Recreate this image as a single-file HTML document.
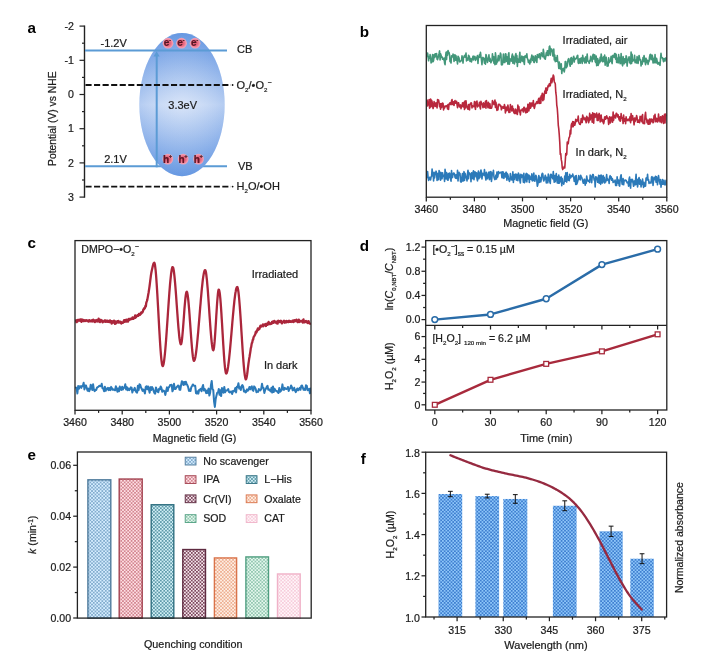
<!DOCTYPE html>
<html><head><meta charset="utf-8"><title>Figure</title>
<style>
html,body{margin:0;padding:0;background:#fff;}
svg{display:block;font-family:"Liberation Sans",Arial,sans-serif;}
text{stroke:#222;stroke-width:0.22px;}
</style></head>
<body>
<svg width="721" height="656" viewBox="0 0 721 656">
<rect width="721" height="656" fill="#fff"/>
<defs>
<linearGradient id="ell" x1="0" y1="0" x2="0" y2="1"><stop offset="0" stop-color="#6a9be2"/><stop offset="0.18" stop-color="#8fb3ea"/><stop offset="0.5" stop-color="#d2e0f7"/><stop offset="0.82" stop-color="#8fb3ea"/><stop offset="1" stop-color="#6a9be2"/></linearGradient>
<radialGradient id="ellr" cx="0.5" cy="0.5" r="0.5"><stop offset="0" stop-color="#ffffff" stop-opacity="0.15"/><stop offset="1" stop-color="#5a8fe0" stop-opacity="0.25"/></radialGradient>
<radialGradient id="eg" cx="0.5" cy="0.5" r="0.5"><stop offset="0" stop-color="#e0506a"/><stop offset="0.5" stop-color="#e96a82"/><stop offset="0.85" stop-color="#f298ac"/><stop offset="1" stop-color="#f3aabb" stop-opacity="0.9"/></radialGradient>
<pattern id="p_blue" width="3.44" height="3.44" patternUnits="userSpaceOnUse"><rect width="3.44" height="3.44" fill="#d6edff"/><rect x="0.18" y="0.18" width="1.35" height="1.35" fill="#4d84ae"/><rect x="1.9" y="1.9" width="1.35" height="1.35" fill="#4d84ae"/></pattern>
<pattern id="p_red" width="3.44" height="3.44" patternUnits="userSpaceOnUse"><rect width="3.44" height="3.44" fill="#ffe0e4"/><rect x="0.18" y="0.18" width="1.35" height="1.35" fill="#b64c5c"/><rect x="1.9" y="1.9" width="1.35" height="1.35" fill="#b64c5c"/></pattern>
<pattern id="p_teal" width="3.44" height="3.44" patternUnits="userSpaceOnUse"><rect width="3.44" height="3.44" fill="#d2f0f6"/><rect x="0.11" y="0.11" width="1.5" height="1.5" fill="#3b7f92"/><rect x="1.83" y="1.83" width="1.5" height="1.5" fill="#3b7f92"/></pattern>
<pattern id="p_maroon" width="3.44" height="3.44" patternUnits="userSpaceOnUse"><rect width="3.44" height="3.44" fill="#f5e6ec"/><rect x="0.06" y="0.06" width="1.6" height="1.6" fill="#6b3048"/><rect x="1.78" y="1.78" width="1.6" height="1.6" fill="#6b3048"/></pattern>
<pattern id="p_orange" width="3.44" height="3.44" patternUnits="userSpaceOnUse"><rect width="3.44" height="3.44" fill="#fff0e6"/><rect x="0.18" y="0.18" width="1.35" height="1.35" fill="#e3875c"/><rect x="1.9" y="1.9" width="1.35" height="1.35" fill="#e3875c"/></pattern>
<pattern id="p_green" width="3.44" height="3.44" patternUnits="userSpaceOnUse"><rect width="3.44" height="3.44" fill="#e6f8ef"/><rect x="0.18" y="0.18" width="1.35" height="1.35" fill="#5da888"/><rect x="1.9" y="1.9" width="1.35" height="1.35" fill="#5da888"/></pattern>
<pattern id="p_pink" width="3.44" height="3.44" patternUnits="userSpaceOnUse"><rect width="3.44" height="3.44" fill="#fff6f9"/><rect x="0.18" y="0.18" width="1.35" height="1.35" fill="#f2b4ca"/><rect x="1.9" y="1.9" width="1.35" height="1.35" fill="#f2b4ca"/></pattern>
<pattern id="p_fblue" width="3.44" height="3.44" patternUnits="userSpaceOnUse"><rect width="3.44" height="3.44" fill="#8ec6f9"/><rect x="0" y="0" width="1.72" height="1.72" fill="#3f7fd0"/><rect x="1.72" y="1.72" width="1.72" height="1.72" fill="#3f7fd0"/></pattern>
</defs>
<text x="27.4" y="33.2" text-anchor="start" font-size="15.2" fill="#000" font-weight="700" style="stroke:none">a</text>
<text x="359.8" y="36.5" text-anchor="start" font-size="15.2" fill="#000" font-weight="700" style="stroke:none">b</text>
<text x="27.4" y="248.4" text-anchor="start" font-size="15.2" fill="#000" font-weight="700" style="stroke:none">c</text>
<text x="359.8" y="250.7" text-anchor="start" font-size="15.2" fill="#000" font-weight="700" style="stroke:none">d</text>
<text x="27.4" y="460.3" text-anchor="start" font-size="15.2" fill="#000" font-weight="700" style="stroke:none">e</text>
<text x="360.8" y="463.9" text-anchor="start" font-size="15.2" fill="#000" font-weight="700" style="stroke:none">f</text>
<line x1="84.5" y1="25.5" x2="84.5" y2="197.7" stroke="#222" stroke-width="1.4" />
<line x1="79.5" y1="26.1" x2="84.5" y2="26.1" stroke="#222" stroke-width="1.2" />
<text x="74" y="29.8" text-anchor="end" font-size="10.6" fill="#1a1a1a" >-2</text>
<line x1="79.5" y1="60.3" x2="84.5" y2="60.3" stroke="#222" stroke-width="1.2" />
<text x="74" y="64" text-anchor="end" font-size="10.6" fill="#1a1a1a" >-1</text>
<line x1="79.5" y1="94.5" x2="84.5" y2="94.5" stroke="#222" stroke-width="1.2" />
<text x="74" y="98.2" text-anchor="end" font-size="10.6" fill="#1a1a1a" >0</text>
<line x1="79.5" y1="128.7" x2="84.5" y2="128.7" stroke="#222" stroke-width="1.2" />
<text x="74" y="132.4" text-anchor="end" font-size="10.6" fill="#1a1a1a" >1</text>
<line x1="79.5" y1="162.9" x2="84.5" y2="162.9" stroke="#222" stroke-width="1.2" />
<text x="74" y="166.6" text-anchor="end" font-size="10.6" fill="#1a1a1a" >2</text>
<line x1="79.5" y1="197.1" x2="84.5" y2="197.1" stroke="#222" stroke-width="1.2" />
<text x="74" y="200.8" text-anchor="end" font-size="10.6" fill="#1a1a1a" >3</text>
<line x1="82" y1="43.2" x2="84.5" y2="43.2" stroke="#222" stroke-width="1.2" />
<line x1="82" y1="77.4" x2="84.5" y2="77.4" stroke="#222" stroke-width="1.2" />
<line x1="82" y1="111.6" x2="84.5" y2="111.6" stroke="#222" stroke-width="1.2" />
<line x1="82" y1="145.8" x2="84.5" y2="145.8" stroke="#222" stroke-width="1.2" />
<line x1="82" y1="180" x2="84.5" y2="180" stroke="#222" stroke-width="1.2" />
<text transform="translate(56 118.7) rotate(-90)" text-anchor="middle" font-size="10.3" fill="#1a1a1a" >Potential (V) vs NHE</text>
<line x1="85" y1="166.3" x2="227" y2="166.3" stroke="#5b9bd5" stroke-width="2.0" />
<ellipse cx="182" cy="104.6" rx="42.7" ry="71.6" fill="url(#ell)"/>
<ellipse cx="182" cy="104.6" rx="42.7" ry="71.6" fill="url(#ellr)"/>
<line x1="85" y1="50.4" x2="227" y2="50.4" stroke="#5b9bd5" stroke-width="2.0" />
<line x1="156.7" y1="167.3" x2="156.7" y2="55" stroke="#5b9bd5" stroke-width="2.0" />
<path d="M156.6,51.2 L159.7,56.4 L153.5,56.4 Z" fill="#5b9bd5"/>
<line x1="85.5" y1="85" x2="231" y2="85" stroke="#111" stroke-width="1.9" stroke-dasharray="6.1 2.45"/>
<line x1="85.5" y1="186.6" x2="231" y2="186.6" stroke="#111" stroke-width="1.9" stroke-dasharray="6.1 2.45"/>
<circle cx="232.6" cy="85" r="0.9" fill="#111"/>
<circle cx="232.6" cy="186.6" r="0.9" fill="#111"/>
<circle cx="168.0" cy="43.2" r="5.4" fill="url(#eg)"/>
<text x="167.4" y="46.3" text-anchor="middle" font-size="10" fill="#6e0f24" font-weight="700">e<tspan font-size="5" dy="-4.5">-</tspan><tspan dy="4.5" font-size="5">&#8203;</tspan></text>
<circle cx="181.5" cy="43.2" r="5.4" fill="url(#eg)"/>
<text x="180.9" y="46.3" text-anchor="middle" font-size="10" fill="#6e0f24" font-weight="700">e<tspan font-size="5" dy="-4.5">-</tspan><tspan dy="4.5" font-size="5">&#8203;</tspan></text>
<circle cx="195.1" cy="43.2" r="5.4" fill="url(#eg)"/>
<text x="194.5" y="46.3" text-anchor="middle" font-size="10" fill="#6e0f24" font-weight="700">e<tspan font-size="5" dy="-4.5">-</tspan><tspan dy="4.5" font-size="5">&#8203;</tspan></text>
<circle cx="167.8" cy="159.1" r="5.4" fill="url(#eg)"/>
<text x="167.5" y="162.5" text-anchor="middle" font-size="10" fill="#6e0f24" font-weight="700">h<tspan font-size="5" dy="-4.5">+</tspan><tspan dy="4.5" font-size="5">&#8203;</tspan></text>
<circle cx="183.2" cy="159.1" r="5.4" fill="url(#eg)"/>
<text x="182.9" y="162.5" text-anchor="middle" font-size="10" fill="#6e0f24" font-weight="700">h<tspan font-size="5" dy="-4.5">+</tspan><tspan dy="4.5" font-size="5">&#8203;</tspan></text>
<circle cx="198.5" cy="159.1" r="5.4" fill="url(#eg)"/>
<text x="198.2" y="162.5" text-anchor="middle" font-size="10" fill="#6e0f24" font-weight="700">h<tspan font-size="5" dy="-4.5">+</tspan><tspan dy="4.5" font-size="5">&#8203;</tspan></text>
<text x="100.5" y="46.5" text-anchor="start" font-size="11.0" fill="#1a1a1a" >-1.2V</text>
<text x="104.2" y="163.2" text-anchor="start" font-size="11.0" fill="#1a1a1a" >2.1V</text>
<text x="168.3" y="109" text-anchor="start" font-size="11.0" fill="#1a1a1a" >3.3eV</text>
<text x="237" y="53.2" text-anchor="start" font-size="11.0" fill="#1a1a1a" >CB</text>
<text x="238" y="170" text-anchor="start" font-size="11.0" fill="#1a1a1a" >VB</text>
<text x="236.5" y="88.6" text-anchor="start" font-size="11.0" fill="#1a1a1a" >O<tspan font-size="6.15" dy="2.9">2</tspan><tspan dy="-2.9" font-size="6.15">&#8203;</tspan>/•O<tspan font-size="6.15" dy="2.9">2</tspan><tspan dy="-2.9" font-size="6.15">&#8203;</tspan><tspan font-size="7" dy="-3.5">−</tspan><tspan dy="3.5" font-size="7">&#8203;</tspan></text>
<text x="236.5" y="190.2" text-anchor="start" font-size="11.0" fill="#1a1a1a" >H<tspan font-size="6.15" dy="2.9">2</tspan><tspan dy="-2.9" font-size="6.15">&#8203;</tspan>O/•OH</text>
<clipPath id="cb"><rect x="426.3" y="25.5" width="240.49999999999994" height="171.7"/></clipPath>
<g clip-path="url(#cb)">
<polyline points="427.1,56.53 427.6,53.11 428.1,56.65 428.6,60.81 429.09,56.69 429.59,58.34 430.09,54.55 430.59,57.14 431.09,62.91 431.59,61.94 432.09,61.65 432.59,54.52 433.08,61.75 433.58,60.41 434.08,54.68 434.58,57.54 435.08,53.73 435.58,53.86 436.08,56.62 436.58,53.46 437.07,59.21 437.57,59.67 438.07,57.73 438.57,55.56 439.07,53.43 439.57,50.91 440.07,59.84 440.57,53.79 441.06,55.17 441.56,57.21 442.06,56.79 442.56,59.28 443.06,58.43 443.56,59.7 444.06,58.03 444.56,63.01 445.05,64.62 445.55,57.1 446.05,52.42 446.55,59.44 447.05,51.72 447.55,55.13 448.05,50.44 448.55,53.04 449.04,52.38 449.54,54.84 450.04,61.57 450.54,61.55 451.04,62.91 451.54,55.88 452.04,57.06 452.54,56.82 453.03,54.1 453.53,55.82 454.03,61.39 454.53,54.99 455.03,54.89 455.53,60.11 456.03,55.86 456.53,60.31 457.02,60.41 457.52,63.84 458.02,56.21 458.52,57.03 459.02,57.91 459.52,61.75 460.02,61.89 460.52,61.11 461.01,60.92 461.51,60.27 462.01,55.8 462.51,58.21 463.01,63.06 463.51,57.06 464.01,57.17 464.51,55.42 465,56.78 465.5,57.16 466,53 466.5,60.86 467,58.07 467.5,59.73 468,60.16 468.5,55.3 468.99,55.73 469.49,57.03 469.99,61.45 470.49,60.95 470.99,58.53 471.49,61.85 471.99,59.65 472.49,59.17 472.98,56.24 473.48,60 473.98,56.17 474.48,58.7 474.98,56.59 475.48,60.45 475.98,59.43 476.48,58.29 476.97,56.96 477.47,55.57 477.97,63.4 478.47,56.72 478.97,57.5 479.47,54.64 479.97,57.09 480.47,52.33 480.96,56.38 481.46,59.86 481.96,64.78 482.46,58.79 482.96,57.38 483.46,58 483.96,59.44 484.46,63.1 484.95,58.2 485.45,64.11 485.95,54.46 486.45,56.1 486.95,58.68 487.45,62.41 487.95,58.39 488.45,59.17 488.94,54.9 489.44,61.17 489.94,58.17 490.44,60.23 490.94,62.76 491.44,61.13 491.94,61.06 492.44,53.83 492.93,59.76 493.43,56.51 493.93,63.15 494.43,57.13 494.93,64.8 495.43,52.81 495.93,56.96 496.43,64.07 496.92,60.34 497.42,62 497.92,58.4 498.42,55.47 498.92,60.77 499.42,57.82 499.92,57.55 500.42,53.09 500.91,54.24 501.41,64.83 501.91,61.75 502.41,64.6 502.91,59.79 503.41,54.11 503.91,62.42 504.41,60.7 504.9,62.4 505.4,53.85 505.9,54.02 506.4,61.12 506.9,56.68 507.4,61.23 507.9,64.23 508.4,54.52 508.89,52.71 509.39,64.12 509.89,61.03 510.39,58.91 510.89,60.18 511.39,61.14 511.89,56.12 512.39,54.08 512.88,63.1 513.38,56.22 513.88,59.78 514.38,63.84 514.88,60.24 515.38,55.22 515.88,53.63 516.38,62.12 516.87,55.44 517.37,66.45 517.87,59 518.37,60.51 518.87,62.15 519.37,56.31 519.87,52.19 520.37,62.57 520.86,57.98 521.36,60.96 521.86,56.08 522.36,56.95 522.86,61.48 523.36,56.82 523.86,61.74 524.36,64.47 524.85,56.15 525.35,56.92 525.85,55.6 526.35,57.22 526.85,53.84 527.35,58.51 527.85,59.41 528.35,62.46 528.84,60.59 529.34,62.57 529.84,64.03 530.34,59.28 530.84,62.15 531.34,57.71 531.84,55.1 532.34,57.29 532.83,60.56 533.33,56.26 533.83,62.21 534.33,62.51 534.83,58.79 535.33,55.74 535.83,60.6 536.33,57.05 536.82,62.48 537.32,54.56 537.82,56.11 538.32,57.49 538.82,55.32 539.32,53.76 539.82,56.73 540.32,58.97 540.81,54.94 541.31,52.72 541.81,55.81 542.31,55.43 542.81,56.67 543.31,49.25 543.81,52.74 544.31,58.02 544.8,58.72 545.3,59.18 545.8,56.01 546.3,52.73 546.8,55.38 547.3,50.7 547.8,50.92 548.3,55.57 548.79,52.57 549.29,46.77 549.79,46.05 550.29,55.09 550.79,48.52 551.29,51.45 551.79,49.22 552.29,51.29 552.78,55.88 553.28,55.31 553.78,49.17 554.28,59.89 554.78,54.98 555.28,61.61 555.78,57.8 556.28,57.76 556.77,61.28 557.27,55.46 557.77,61.84 558.27,61.97 558.77,68.36 559.27,61.96 559.77,64.48 560.27,68.95 560.76,68.8 561.26,63.69 561.76,73.56 562.26,68.97 562.76,70.48 563.26,68.47 563.76,68.37 564.26,71.99 564.75,68.96 565.25,61.48 565.75,61.44 566.25,67.79 566.75,66.93 567.25,65.83 567.75,61.44 568.25,59.04 568.74,58.71 569.24,61.08 569.74,64.24 570.24,66.21 570.74,58.48 571.24,57.54 571.74,64.27 572.24,63.13 572.73,58.58 573.23,57.58 573.73,56.26 574.23,62.06 574.73,58.36 575.23,58.9 575.73,59.11 576.23,58.49 576.72,57.41 577.22,55.85 577.72,55.26 578.22,62.85 578.72,63.28 579.22,59.41 579.72,58.88 580.22,63.11 580.71,58.65 581.21,57.83 581.71,60.7 582.21,63.47 582.71,55.32 583.21,59.1 583.71,61.03 584.21,58.35 584.7,62.86 585.2,61.29 585.7,56.92 586.2,62.87 586.7,58.53 587.2,54.01 587.7,60.91 588.2,61.37 588.69,61.73 589.19,63.36 589.69,60.24 590.19,61.11 590.69,56.4 591.19,59.5 591.69,58.47 592.19,61.77 592.68,55.47 593.18,54.34 593.68,58.93 594.18,58.67 594.68,54.68 595.18,61.35 595.68,62.46 596.18,56.08 596.67,65.77 597.17,59.89 597.67,58.6 598.17,65.35 598.67,63.72 599.17,60.23 599.67,62.8 600.17,57.41 600.66,61.56 601.16,53.95 601.66,56.77 602.16,60.26 602.66,61.66 603.16,57.99 603.66,56.86 604.16,61.68 604.65,54.96 605.15,65.11 605.65,58.19 606.15,57.22 606.65,61.67 607.15,66.18 607.65,62.57 608.15,65.88 608.64,57.87 609.14,62.68 609.64,61.36 610.14,61.33 610.64,59.36 611.14,56.19 611.64,61.78 612.14,63.6 612.63,55.84 613.13,55.24 613.63,56.61 614.13,57.31 614.63,53.56 615.13,53.62 615.63,59.11 616.13,54.39 616.62,62.46 617.12,57.95 617.62,59.04 618.12,63 618.62,54.45 619.12,61.92 619.62,57.18 620.12,63.59 620.61,63.18 621.11,53.54 621.61,61.32 622.11,63.99 622.61,65.83 623.11,56.61 623.61,60.63 624.11,63.81 624.6,58.71 625.1,61.27 625.6,62.42 626.1,55.81 626.6,57.02 627.1,66.08 627.6,60.81 628.1,59.78 628.59,58.67 629.09,56.81 629.59,62.58 630.09,59.99 630.59,63.81 631.09,52.13 631.59,63.41 632.09,54.42 632.58,61.39 633.08,60.27 633.58,59.68 634.08,60.55 634.58,55.41 635.08,62.64 635.58,60.03 636.08,60.36 636.57,63.01 637.07,56.48 637.57,60.43 638.07,63.46 638.57,59.73 639.07,55.45 639.57,58.09 640.07,60.06 640.56,59.52 641.06,65.96 641.56,61.45 642.06,64.27 642.56,62.11 643.06,57.45 643.56,61.57 644.06,55.53 644.55,58.32 645.05,61.53 645.55,64.75 646.05,58.21 646.55,62.62 647.05,60.38 647.55,60.34 648.05,64.34 648.54,61.88 649.04,61.54 649.54,56.84 650.04,54.71 650.54,54.28 651.04,59.78 651.54,59.06 652.04,55.03 652.53,56.58 653.03,62.97 653.53,61.37 654.03,58.36 654.53,62.63 655.03,54.46 655.53,61.93 656.03,62.85 656.52,58.26 657.02,60.38 657.52,63.69 658.02,64.08 658.52,62.46 659.02,62.51 659.52,64.49 660.02,65.36 660.51,58.92 661.01,53.3 661.51,57.49 662.01,57.77 662.51,57.85 663.01,59.6 663.51,61.68 664.01,58.65 664.5,59.31 665,61 665.5,58.05 666,58.82" fill="none" stroke="#43977a" stroke-width="1.6" stroke-linejoin="round" stroke-linecap="round" />
<polyline points="427.1,100.1 427.6,105.88 428.1,102.81 428.6,104.31 429.09,99.64 429.59,108.18 430.09,107.3 430.59,99.17 431.09,106.79 431.59,100.28 432.09,101.82 432.59,105.79 433.08,108.51 433.58,106.61 434.08,101.62 434.58,103.3 435.08,106.22 435.58,103.06 436.08,106.52 436.58,102.69 437.07,107.96 437.57,99.45 438.07,101.57 438.57,99.96 439.07,102.75 439.57,106.65 440.07,103.74 440.57,109.2 441.06,103.46 441.56,107.52 442.06,105.75 442.56,103.04 443.06,103.63 443.56,109.89 444.06,106.64 444.56,108.11 445.05,106.01 445.55,106.09 446.05,106.52 446.55,105.7 447.05,105.65 447.55,108.85 448.05,104.43 448.55,109.38 449.04,104.36 449.54,103.48 450.04,102.74 450.54,104.52 451.04,104.58 451.54,100.78 452.04,99.57 452.54,104.38 453.03,104.64 453.53,101.82 454.03,105.41 454.53,101.63 455.03,100.59 455.53,103.14 456.03,102.9 456.53,101.34 457.02,104.55 457.52,107.61 458.02,103.03 458.52,102.72 459.02,104.7 459.52,106.85 460.02,105.69 460.52,104.82 461.01,108.7 461.51,105.56 462.01,106.65 462.51,102.75 463.01,104.73 463.51,106.85 464.01,102.34 464.51,109.57 465,101.06 465.5,107.91 466,100.87 466.5,105.56 467,106.55 467.5,108.41 468,109.21 468.5,104.59 468.99,106.35 469.49,109.82 469.99,104.07 470.49,104.4 470.99,102.77 471.49,103.1 471.99,107.91 472.49,105.77 472.98,106.4 473.48,106.64 473.98,106.17 474.48,101.6 474.98,106.91 475.48,109.33 475.98,102.12 476.48,105.22 476.97,100.98 477.47,106.83 477.97,105.84 478.47,105.85 478.97,104.79 479.47,102.32 479.97,107.02 480.47,108.86 480.96,101.42 481.46,103.18 481.96,103.99 482.46,104.93 482.96,107.7 483.46,102.86 483.96,104.87 484.46,107.15 484.95,105.39 485.45,101.29 485.95,108.23 486.45,100.62 486.95,103.81 487.45,104.38 487.95,107.73 488.45,102.35 488.94,104.04 489.44,108.08 489.94,103.78 490.44,108.25 490.94,107.4 491.44,108.17 491.94,106.7 492.44,100.61 492.93,103.37 493.43,102.32 493.93,104.48 494.43,101.81 494.93,100.13 495.43,107.51 495.93,102.34 496.43,105.54 496.92,110.43 497.42,107.91 497.92,109.85 498.42,104.42 498.92,104.8 499.42,104.23 499.92,104.84 500.42,106.12 500.91,105.88 501.41,109.8 501.91,107.38 502.41,107.89 502.91,106.66 503.41,108.17 503.91,108.27 504.41,104.55 504.9,106.52 505.4,112.95 505.9,107.54 506.4,107.17 506.9,110.69 507.4,109.33 507.9,105.05 508.4,108.02 508.89,112.39 509.39,112.01 509.89,112.34 510.39,104.56 510.89,107.47 511.39,109.06 511.89,111.01 512.39,105.94 512.88,110.68 513.38,108.76 513.88,112.56 514.38,113.39 514.88,113.64 515.38,109.13 515.88,109.44 516.38,113.57 516.87,111.56 517.37,114.54 517.87,105.15 518.37,107.95 518.87,106.68 519.37,111.93 519.87,110.92 520.37,114.91 520.86,110.12 521.36,110.51 521.86,109.99 522.36,108.93 522.86,110.61 523.36,112.03 523.86,107.29 524.36,107.32 524.85,109.1 525.35,112.08 525.85,112.81 526.35,108.38 526.85,108.34 527.35,112.28 527.85,104.24 528.35,104.55 528.84,110.88 529.34,107.71 529.84,102.78 530.34,108.23 530.84,107.42 531.34,103.09 531.84,105.9 532.34,103.14 532.83,105.87 533.33,100.5 533.83,106.25 534.33,108.41 534.83,106.43 535.33,103.81 535.83,104.15 536.33,102.49 536.82,101.67 537.32,102.94 537.82,103.38 538.32,99.71 538.82,98.38 539.32,102.94 539.82,103.49 540.32,97.26 540.81,103.1 541.31,95.63 541.81,99.11 542.31,93.19 542.81,100.8 543.31,94.31 543.81,99.62 544.31,94.79 544.8,91.11 545.3,93.11 545.8,88.14 546.3,93.2 546.8,87.95 547.3,90.26 547.8,86.69 548.3,85.22 548.79,86.59 549.29,83.78 549.79,84.53 550.29,85.65 550.79,80.8 551.29,78.19 551.79,82.67 552.29,80.86 552.78,77.82 553.28,74.94 553.78,76.32 554.28,81.84 554.78,82.66 555.28,83.72 555.78,92.44 556.28,95.99 556.77,105.09 557.27,108.26 557.77,115.34 558.27,125.08 558.77,128.84 559.27,134.85 559.77,142.34 560.27,154.42 560.76,153.68 561.26,159.65 561.76,161.83 562.26,168.04 562.76,169.59 563.26,168.26 563.76,167.65 564.26,166.44 564.75,167.91 565.25,161.21 565.75,153.56 566.25,155.26 566.75,154.14 567.25,142.14 567.75,142.2 568.25,143.71 568.74,139.08 569.24,137.29 569.74,136.39 570.24,130.3 570.74,133.97 571.24,125.31 571.74,123.38 572.24,126.7 572.73,121.58 573.23,126.58 573.73,121.76 574.23,125.27 574.73,125.25 575.23,123.57 575.73,119.36 576.23,119.95 576.72,121.55 577.22,119.87 577.72,120.4 578.22,116.05 578.72,121.91 579.22,123.44 579.72,124.29 580.22,124.39 580.71,122.85 581.21,118.46 581.71,121.02 582.21,122.46 582.71,115.14 583.21,118.46 583.71,117.22 584.21,119.8 584.7,119.32 585.2,118.08 585.7,120.51 586.2,122.74 586.7,116.36 587.2,119.72 587.7,117.5 588.2,121.25 588.69,122.69 589.19,120.44 589.69,113.3 590.19,120.01 590.69,115.58 591.19,114.95 591.69,116.2 592.19,122.22 592.68,112.7 593.18,114.01 593.68,123.12 594.18,113.46 594.68,117.51 595.18,115.48 595.68,114.17 596.18,117.06 596.67,113.03 597.17,120.37 597.67,115.1 598.17,120.44 598.67,115.05 599.17,113.43 599.67,116.49 600.17,122.03 600.66,117.04 601.16,115.07 601.66,120.96 602.16,121.33 602.66,119.61 603.16,122.36 603.66,123.65 604.16,121.33 604.65,116.92 605.15,116.73 605.65,119.23 606.15,118.24 606.65,115.74 607.15,117.43 607.65,118.35 608.15,119.01 608.64,124.36 609.14,118.56 609.64,116.72 610.14,123.04 610.64,118.76 611.14,117.36 611.64,117.17 612.14,122.29 612.63,122.07 613.13,112.06 613.63,120.2 614.13,115.85 614.63,115.24 615.13,116.51 615.63,117.97 616.13,113.56 616.62,113.3 617.12,114.73 617.62,116.88 618.12,114.84 618.62,117.35 619.12,119.88 619.62,116.82 620.12,121.25 620.61,120.56 621.11,113.66 621.61,118.13 622.11,117.36 622.61,118.42 623.11,123.57 623.61,115.13 624.11,121.25 624.6,119.81 625.1,118.88 625.6,123.69 626.1,116.83 626.6,119.92 627.1,120.6 627.6,120.12 628.1,119.23 628.59,119.26 629.09,120.64 629.59,118.59 630.09,116.62 630.59,122.77 631.09,113.56 631.59,120.34 632.09,115.83 632.58,115.61 633.08,119.77 633.58,120.42 634.08,124.82 634.58,117.93 635.08,121.57 635.58,117.94 636.08,119.79 636.57,115.55 637.07,117.46 637.57,122.31 638.07,120.63 638.57,122.08 639.07,119.78 639.57,122.71 640.07,116.36 640.56,120.21 641.06,120.86 641.56,116.29 642.06,122.04 642.56,114.57 643.06,123.4 643.56,123.43 644.06,122.47 644.55,123.58 645.05,115.52 645.55,112.35 646.05,119.01 646.55,118.89 647.05,122.77 647.55,120.32 648.05,124.09 648.54,120.24 649.04,124.19 649.54,119.16 650.04,123.89 650.54,119.91 651.04,119.01 651.54,121.66 652.04,119.28 652.53,119.89 653.03,122.79 653.53,122.21 654.03,115.74 654.53,117.44 655.03,114.25 655.53,121.71 656.03,121.56 656.52,118.27 657.02,118.71 657.52,121.99 658.02,121.32 658.52,114.14 659.02,120.17 659.52,119.61 660.02,121.84 660.51,116.81 661.01,117.01 661.51,122.69 662.01,117.67 662.51,115.74 663.01,119.23 663.51,123.46 664.01,117.66 664.5,114.38 665,122.94 665.5,114.09 666,115.49" fill="none" stroke="#b8283d" stroke-width="1.6" stroke-linejoin="round" stroke-linecap="round" />
<polyline points="427.1,177.42 427.6,171.53 428.1,177.37 428.6,180.41 429.09,179.66 429.59,177.32 430.09,177.82 430.59,179.9 431.09,176.86 431.59,176.41 432.09,169.12 432.59,173.52 433.08,173.25 433.58,180.91 434.08,172.35 434.58,177.9 435.08,174.44 435.58,173.04 436.08,171.16 436.58,173.52 437.07,180.39 437.57,173.45 438.07,173.72 438.57,179.77 439.07,170.51 439.57,171.9 440.07,172.85 440.57,180.19 441.06,172.65 441.56,176.57 442.06,178.73 442.56,172.72 443.06,176.56 443.56,175.19 444.06,175.76 444.56,181.42 445.05,169.4 445.55,173.96 446.05,178.84 446.55,172.56 447.05,174.17 447.55,179.95 448.05,180.14 448.55,173.48 449.04,177.69 449.54,173.01 450.04,174.8 450.54,179 451.04,181.19 451.54,170.61 452.04,177.75 452.54,177.34 453.03,174.48 453.53,173.02 454.03,173.01 454.53,174 455.03,177.35 455.53,178.2 456.03,174.77 456.53,178.46 457.02,177.45 457.52,170.28 458.02,180.85 458.52,174.69 459.02,172.3 459.52,174.92 460.02,173.57 460.52,181.39 461.01,182.21 461.51,181.14 462.01,176.13 462.51,173.52 463.01,181.14 463.51,175.37 464.01,171.67 464.51,180.51 465,173.18 465.5,175.07 466,177.8 466.5,177.29 467,180.94 467.5,173.84 468,170.22 468.5,178.63 468.99,172.46 469.49,173.76 469.99,174 470.49,173.94 470.99,181.66 471.49,172.78 471.99,178.32 472.49,178.55 472.98,172.76 473.48,170.79 473.98,179.74 474.48,173.43 474.98,171.8 475.48,173.49 475.98,176.76 476.48,172.83 476.97,178.54 477.47,180.84 477.97,173.64 478.47,170.95 478.97,178.67 479.47,173.21 479.97,177.37 480.47,172.37 480.96,169.97 481.46,172.45 481.96,178.93 482.46,173.56 482.96,173.86 483.46,173.36 483.96,175.39 484.46,169.56 484.95,174.21 485.45,176.96 485.95,180.03 486.45,172.35 486.95,175.99 487.45,178.72 487.95,176.68 488.45,173.34 488.94,172.09 489.44,179.77 489.94,178.73 490.44,171.78 490.94,171.63 491.44,181.45 491.94,177.38 492.44,172.68 492.93,173.63 493.43,170.39 493.93,176.71 494.43,178.6 494.93,179.64 495.43,177.37 495.93,175.05 496.43,179.07 496.92,172.02 497.42,177.57 497.92,176.19 498.42,171.5 498.92,173.66 499.42,172.92 499.92,172.51 500.42,172.4 500.91,173 501.41,172.09 501.91,177.66 502.41,171.75 502.91,177.81 503.41,171.94 503.91,178.54 504.41,173.77 504.9,174.12 505.4,176.88 505.9,172.29 506.4,172.33 506.9,180.12 507.4,173.88 507.9,174.83 508.4,177.74 508.89,179.75 509.39,181.38 509.89,180.38 510.39,173.49 510.89,178.97 511.39,177.18 511.89,180.02 512.39,176.77 512.88,171.92 513.38,182.35 513.88,174.76 514.38,179.34 514.88,174.46 515.38,174.22 515.88,174.17 516.38,180.12 516.87,174.65 517.37,177.84 517.87,180.73 518.37,173.1 518.87,174.34 519.37,175.73 519.87,180.63 520.37,182.97 520.86,174.39 521.36,177.55 521.86,175.01 522.36,175.12 522.86,176.02 523.36,182.12 523.86,173.24 524.36,182.78 524.85,181.91 525.35,180.08 525.85,174.35 526.35,173.35 526.85,181.91 527.35,173.99 527.85,176.04 528.35,178.95 528.84,174.95 529.34,182.35 529.84,176.06 530.34,179.07 530.84,178.92 531.34,179.55 531.84,173.73 532.34,180.97 532.83,175.67 533.33,180.43 533.83,173.14 534.33,180.76 534.83,181.26 535.33,177.97 535.83,175.24 536.33,176.39 536.82,180.93 537.32,186.29 537.82,184.74 538.32,179.84 538.82,175.46 539.32,182.54 539.82,177.29 540.32,177.65 540.81,181.96 541.31,179.15 541.81,174.67 542.31,173.33 542.81,173.8 543.31,179.02 543.81,181.05 544.31,179.61 544.8,177.37 545.3,175.2 545.8,178.31 546.3,183.03 546.8,177.38 547.3,182.61 547.8,182.75 548.3,174.07 548.79,175.23 549.29,180.29 549.79,181.69 550.29,183.39 550.79,174.18 551.29,174.38 551.79,177.52 552.29,175.82 552.78,178.75 553.28,171.56 553.78,178.74 554.28,182.28 554.78,175.59 555.28,181.8 555.78,175.98 556.28,173.55 556.77,177.95 557.27,182.94 557.77,176.84 558.27,183.22 558.77,174.93 559.27,183.18 559.77,177.33 560.27,181.77 560.76,178.96 561.26,176.91 561.76,185.66 562.26,178.6 562.76,183.02 563.26,182.85 563.76,184.18 564.26,181.63 564.75,176.03 565.25,181.09 565.75,172.75 566.25,181.24 566.75,182.06 567.25,172.55 567.75,179.25 568.25,180.19 568.74,176.7 569.24,180.72 569.74,174.35 570.24,178.06 570.74,177.62 571.24,175.89 571.74,176.76 572.24,176.15 572.73,174.06 573.23,176.26 573.73,177.28 574.23,181.36 574.73,180.96 575.23,176.12 575.73,184.48 576.23,175.52 576.72,184.33 577.22,183 577.72,181.35 578.22,179.6 578.72,175.55 579.22,178.09 579.72,179.12 580.22,179.9 580.71,175.36 581.21,176.92 581.71,177.35 582.21,179.1 582.71,181.01 583.21,183.14 583.71,183.17 584.21,179.19 584.7,179.34 585.2,185.11 585.7,181.77 586.2,183.24 586.7,175.96 587.2,179.34 587.7,180.27 588.2,181.39 588.69,181.16 589.19,179.99 589.69,182.44 590.19,175.07 590.69,177.85 591.19,176.34 591.69,182.69 592.19,177.01 592.68,174.62 593.18,174.47 593.68,176.96 594.18,180.06 594.68,178.63 595.18,187.03 595.68,176.71 596.18,177.99 596.67,177.21 597.17,179.82 597.67,182.31 598.17,181.61 598.67,175.41 599.17,183.15 599.67,180.07 600.17,175.6 600.66,184.33 601.16,175.07 601.66,176.85 602.16,183.06 602.66,182.76 603.16,175.6 603.66,181.43 604.16,177.19 604.65,182.96 605.15,180.66 605.65,181.9 606.15,178.42 606.65,174.65 607.15,180.34 607.65,178.78 608.15,179.75 608.64,179.95 609.14,183.47 609.64,177.13 610.14,175.69 610.64,178.75 611.14,176.78 611.64,180.29 612.14,178.41 612.63,179.12 613.13,182.54 613.63,181.2 614.13,181.87 614.63,181.77 615.13,180.06 615.63,185.47 616.13,181.75 616.62,185.48 617.12,176.83 617.62,181.06 618.12,183.1 618.62,180.05 619.12,185.51 619.62,186.06 620.12,180.42 620.61,176.55 621.11,174.84 621.61,179.89 622.11,184.06 622.61,184.51 623.11,178.53 623.61,184.8 624.11,181.06 624.6,180.85 625.1,179.9 625.6,180.56 626.1,180.3 626.6,181.56 627.1,182.82 627.6,182.23 628.1,182.54 628.59,186.14 629.09,178.88 629.59,177.09 630.09,184.62 630.59,188.08 631.09,179.48 631.59,181.66 632.09,179.22 632.58,179.78 633.08,183.05 633.58,186.31 634.08,181.26 634.58,180.97 635.08,184.92 635.58,179.76 636.08,174.28 636.57,184.39 637.07,179.31 637.57,187.02 638.07,182.97 638.57,179.26 639.07,177.47 639.57,184.19 640.07,179.62 640.56,181.09 641.06,186.95 641.56,181.29 642.06,184.33 642.56,178.98 643.06,184.01 643.56,187.34 644.06,182.36 644.55,184.46 645.05,186.21 645.55,186 646.05,177.99 646.55,178.29 647.05,180.01 647.55,174.31 648.05,180.04 648.54,179.5 649.04,183.36 649.54,182.54 650.04,182.33 650.54,182.87 651.04,183.03 651.54,177.11 652.04,176.7 652.53,178.61 653.03,185.44 653.53,180.84 654.03,177.42 654.53,179.69 655.03,178.42 655.53,176.28 656.03,182.12 656.52,176.87 657.02,180.2 657.52,184.79 658.02,179.76 658.52,175.55 659.02,179.62 659.52,181.04 660.02,184.1 660.51,179.61 661.01,187.18 661.51,182.28 662.01,184.19 662.51,179.6 663.01,184.16 663.51,184.05 664.01,180.23 664.5,184.77 665,183.4 665.5,184.65 666,180.32" fill="none" stroke="#2c7ab9" stroke-width="1.6" stroke-linejoin="round" stroke-linecap="round" />
</g>
<rect x="426.3" y="25.5" width="240.5" height="171.7" fill="none" stroke="#222" stroke-width="1.3"/>
<line x1="426.3" y1="197.2" x2="426.3" y2="201.4" stroke="#222" stroke-width="1.25" />
<text x="426.3" y="212.9" text-anchor="middle" font-size="10.6" fill="#1a1a1a" >3460</text>
<line x1="474.4" y1="197.2" x2="474.4" y2="201.4" stroke="#222" stroke-width="1.25" />
<text x="474.4" y="212.9" text-anchor="middle" font-size="10.6" fill="#1a1a1a" >3480</text>
<line x1="522.5" y1="197.2" x2="522.5" y2="201.4" stroke="#222" stroke-width="1.25" />
<text x="522.5" y="212.9" text-anchor="middle" font-size="10.6" fill="#1a1a1a" >3500</text>
<line x1="570.6" y1="197.2" x2="570.6" y2="201.4" stroke="#222" stroke-width="1.25" />
<text x="570.6" y="212.9" text-anchor="middle" font-size="10.6" fill="#1a1a1a" >3520</text>
<line x1="618.7" y1="197.2" x2="618.7" y2="201.4" stroke="#222" stroke-width="1.25" />
<text x="618.7" y="212.9" text-anchor="middle" font-size="10.6" fill="#1a1a1a" >3540</text>
<line x1="666.8" y1="197.2" x2="666.8" y2="201.4" stroke="#222" stroke-width="1.25" />
<text x="666.8" y="212.9" text-anchor="middle" font-size="10.6" fill="#1a1a1a" >3560</text>
<line x1="450.35" y1="197.2" x2="450.35" y2="199.8" stroke="#222" stroke-width="1.25" />
<line x1="498.45" y1="197.2" x2="498.45" y2="199.8" stroke="#222" stroke-width="1.25" />
<line x1="546.55" y1="197.2" x2="546.55" y2="199.8" stroke="#222" stroke-width="1.25" />
<line x1="594.65" y1="197.2" x2="594.65" y2="199.8" stroke="#222" stroke-width="1.25" />
<line x1="642.75" y1="197.2" x2="642.75" y2="199.8" stroke="#222" stroke-width="1.25" />
<text x="545.75" y="227.3" text-anchor="middle" font-size="10.8" fill="#1a1a1a" >Magnetic field (G)</text>
<text x="562.6" y="43.8" text-anchor="start" font-size="11.0" fill="#1a1a1a" >Irradiated, air</text>
<text x="562.6" y="97.6" text-anchor="start" font-size="11.0" fill="#1a1a1a" >Irradiated, N<tspan font-size="6.15" dy="2.9">2</tspan><tspan dy="-2.9" font-size="6.15">&#8203;</tspan></text>
<text x="575.6" y="156.3" text-anchor="start" font-size="11.0" fill="#1a1a1a" >In dark, N<tspan font-size="6.15" dy="2.9">2</tspan><tspan dy="-2.9" font-size="6.15">&#8203;</tspan></text>
<clipPath id="cc"><rect x="75.0" y="240.6" width="236.0" height="169.70000000000002"/></clipPath>
<g clip-path="url(#cc)">
<polyline points="75.8,320.81 76.14,320.27 76.47,322.2 76.81,320.32 77.14,320.58 77.48,321.61 77.81,319.86 78.15,320.09 78.48,320.63 78.82,320.27 79.15,319.67 79.49,320.36 79.82,320.25 80.16,320.92 80.49,319.33 80.83,320.01 81.17,321.31 81.5,321.8 81.84,319.44 82.17,320.95 82.51,319.81 82.84,319.9 83.18,319.89 83.51,320.2 83.85,321.2 84.18,321 84.52,320.54 84.85,320.25 85.19,320.5 85.52,320.43 85.86,321.06 86.2,320.06 86.53,320.5 86.87,320.43 87.2,320.46 87.54,320.67 87.87,320.64 88.21,321.43 88.54,320.44 88.88,321.59 89.21,320.29 89.55,320.17 89.88,320.57 90.22,320.75 90.55,320.69 90.89,321.41 91.23,321.3 91.56,320.85 91.9,320.28 92.23,320.44 92.57,321.51 92.9,320.68 93.24,319.61 93.57,320.05 93.91,320.14 94.24,321.36 94.58,320.49 94.91,322.15 95.25,321.04 95.58,320.68 95.92,320.29 96.26,321.29 96.59,320.45 96.93,320.05 97.26,321.04 97.6,320.66 97.93,321.5 98.27,320.63 98.6,318.69 98.94,321.26 99.27,319.41 99.61,321.81 99.94,322.03 100.28,320.47 100.61,319.97 100.95,319.82 101.29,321.42 101.62,320.69 101.96,320.43 102.29,320.69 102.63,322.34 102.96,321.14 103.3,321.43 103.63,321.47 103.97,321.66 104.3,321.71 104.64,320.48 104.97,320.85 105.31,320.49 105.64,320.54 105.98,321.87 106.32,320.75 106.65,321.08 106.99,320.68 107.32,320.79 107.66,321.8 107.99,320.98 108.33,321 108.66,321.73 109,321.79 109.33,322.04 109.67,321.66 110,320.37 110.34,322.09 110.67,322.05 111.01,322.47 111.35,321.22 111.68,323.63 112.02,321.05 112.35,322.48 112.69,322.05 113.02,321.73 113.36,322.69 113.69,321.97 114.03,320.57 114.36,321.43 114.7,322.61 115.03,323.9 115.37,321.33 115.71,322.38 116.04,323.44 116.38,322.87 116.71,322.2 117.05,321.49 117.38,321.24 117.72,321.97 118.05,322.24 118.39,320.92 118.72,321.29 119.06,322.66 119.39,322.12 119.73,321.83 120.06,322.02 120.4,321.67 120.74,322.82 121.07,323.24 121.41,323.46 121.74,322.42 122.08,322.35 122.41,322.76 122.75,322.86 123.08,322.57 123.42,322.3 123.75,320.91 124.09,320.13 124.42,321.77 124.76,321 125.09,320.94 125.43,320.26 125.77,319.87 126.1,321.67 126.44,320.91 126.77,319.73 127.11,320.64 127.44,320.47 127.78,320.5 128.11,321.58 128.45,319.88 128.78,318.88 129.12,319.68 129.45,319.07 129.79,319.78 130.12,319.41 130.46,319.37 130.8,318.6 131.13,319.15 131.47,318.36 131.8,318.95 132.14,318.23 132.47,317.52 132.81,318.51 133.14,317.52 133.48,318.88 133.81,318.03 134.15,317.9 134.48,317.49 134.82,317.22 135.15,315.43 135.49,317.79 135.83,316.19 136.16,317.25 136.5,315.95 136.83,316.11 137.17,315.86 137.5,315.09 137.84,315.48 138.17,315.72 138.51,314.88 138.84,314.05 139.18,314.3 139.51,314.63 139.85,315.01 140.18,314.52 140.52,313.86 140.86,312.66 141.19,313.68 141.53,312.73 141.86,312.2 142.2,312.63 142.53,312.03 142.87,311.52 143.2,309.91 143.54,309.78 143.87,308.44 144.21,309.13 144.54,308.32 144.88,308.19 145.21,306.87 145.55,305.58 145.89,306.37 146.22,303.16 146.56,301.88 146.89,301.13 147.23,300.12 147.56,298.35 147.9,296.51 148.23,294.5 148.57,292.77 148.9,290.52 149.24,288.34 149.57,285.99 149.91,283.27 150.24,280.59 150.58,278.09 150.92,275.42 151.25,273.31 151.59,271.56 151.92,269.97 152.26,268.47 152.59,266.91 152.93,265.43 153.26,264.19 153.6,263.38 153.93,262.93 154.27,262.72 154.6,263.37 154.94,264.72 155.27,267.35 155.61,270.14 155.95,273.85 156.28,278.21 156.62,283.02 156.95,288.19 157.29,293.62 157.62,299.45 157.96,305.39 158.29,311.34 158.63,317.62 158.96,323.65 159.3,329.72 159.63,335.43 159.97,341.04 160.3,346.17 160.64,350.92 160.98,355.18 161.31,358.79 161.65,361.71 161.98,364.15 162.32,365.39 162.65,366.09 162.99,365.95 163.32,364.97 163.66,363.62 163.99,361.48 164.33,359.02 164.66,356.2 165,352.88 165.33,349.23 165.67,345.08 166.01,340.83 166.34,336.35 166.68,331.64 167.01,326.62 167.35,321.78 167.68,317.02 168.02,311.76 168.35,307.03 168.69,302.07 169.02,297.51 169.36,292.79 169.69,288.56 170.03,284.3 170.36,280.77 170.7,277.51 171.04,274.26 171.37,272.01 171.71,269.76 172.04,268.33 172.38,267.11 172.71,267.21 173.05,267.41 173.38,268.56 173.72,270.24 174.05,272.6 174.39,275.68 174.72,278.82 175.06,282.67 175.39,286.59 175.73,290.94 176.07,295.35 176.4,300.08 176.74,305.02 177.07,309.54 177.41,314.2 177.74,318.65 178.08,323.19 178.41,327.37 178.75,330.88 179.08,334.38 179.42,337.78 179.75,340.15 180.09,342.1 180.42,343.51 180.76,344.25 181.1,344.11 181.43,342.94 181.77,341.25 182.1,338.38 182.44,335 182.77,331.26 183.11,327.16 183.44,322.73 183.78,318.23 184.11,313.74 184.45,308.94 184.78,305.02 185.12,301.37 185.45,297.98 185.79,295.1 186.13,293.08 186.46,292.08 186.8,291.71 187.13,292.34 187.47,294.02 187.8,295.91 188.14,298.76 188.47,301.94 188.81,305.67 189.14,309.65 189.48,314.03 189.81,318.83 190.15,323.29 190.48,328.19 190.82,332.77 191.16,337.48 191.49,341.92 191.83,345.9 192.16,349.98 192.5,353.2 192.83,356.19 193.17,358.21 193.5,359.98 193.84,360.94 194.17,360.76 194.51,360.18 194.84,359.35 195.18,357.96 195.52,356.17 195.85,354.06 196.19,351.56 196.52,348.92 196.86,345.82 197.19,342.51 197.53,339.21 197.86,335.45 198.2,331.94 198.53,327.71 198.87,323.65 199.2,319.59 199.54,315.57 199.87,311.35 200.21,307.21 200.55,303.49 200.88,299.26 201.22,295.73 201.55,291.93 201.89,288.31 202.22,285.32 202.56,282.09 202.89,279.24 203.23,276.89 203.56,274.88 203.9,273.03 204.23,271.66 204.57,270.79 204.9,270.11 205.24,270.11 205.58,270.75 205.91,272.05 206.25,274.25 206.58,277.08 206.92,279.89 207.25,283.83 207.59,287.71 207.92,291.9 208.26,296.56 208.59,301.49 208.93,306.11 209.26,311.17 209.6,316.11 209.93,320.73 210.27,325.57 210.61,330.04 210.94,334.13 211.28,338.11 211.61,341.45 211.95,344.4 212.28,346.76 212.62,348.76 212.95,349.83 213.29,350.24 213.62,349.57 213.96,347.75 214.29,344.98 214.63,341.44 214.96,336.88 215.3,332.18 215.64,326.77 215.97,321.23 216.31,315.54 216.64,310.45 216.98,304.97 217.31,300.5 217.65,296.57 217.98,293.11 218.32,290.75 218.65,289.63 218.99,289.76 219.32,290.85 219.66,292.7 219.99,295.25 220.33,298.72 220.67,302.84 221,307.23 221.34,312.31 221.67,317.86 222.01,323.04 222.34,328.93 222.68,334.42 223.01,340.14 223.35,345.68 223.68,350.8 224.02,355.89 224.35,360.56 224.69,364.5 225.02,367.89 225.36,370.41 225.7,372.37 226.03,373.39 226.37,373.51 226.7,373.12 227.04,371.97 227.37,370.94 227.71,369.04 228.04,367 228.38,364.53 228.71,362 229.05,359.06 229.38,355.8 229.72,352.55 230.05,349.06 230.39,345.33 230.73,341.67 231.06,337.61 231.4,333.88 231.73,329.81 232.07,325.92 232.4,321.76 232.74,318.11 233.07,314.32 233.41,310.78 233.74,307.06 234.08,304 234.41,300.64 234.75,298.02 235.08,295.34 235.42,292.89 235.76,291.22 236.09,289.24 236.43,288.11 236.76,287.32 237.1,286.98 237.43,287.12 237.77,288.11 238.1,289.73 238.44,291.98 238.77,294.78 239.11,298.25 239.44,302.27 239.78,306.33 240.11,311.08 240.45,315.74 240.79,320.97 241.12,326.11 241.46,331.73 241.79,336.75 242.13,342.21 242.46,347.49 242.8,352.49 243.13,357.28 243.47,361.79 243.8,365.84 244.14,369.56 244.47,372.66 244.81,375.31 245.14,377.15 245.48,378.69 245.82,379.41 246.15,378.97 246.49,377.9 246.82,376.35 247.16,374.27 247.49,371.74 247.83,368.73 248.16,366.16 248.5,363.38 248.83,361.07 249.17,358.75 249.5,357.01 249.84,354.76 250.17,352.84 250.51,350.5 250.85,347.92 251.18,347.14 251.52,344.74 251.85,343.1 252.19,342.76 252.52,341.03 252.86,339.44 253.19,339.47 253.53,337.35 253.86,336.74 254.2,336.34 254.53,335.62 254.87,335 255.2,334.59 255.54,332.8 255.88,331.64 256.21,332.84 256.55,332.17 256.88,330.53 257.22,330.78 257.55,329.6 257.89,328.37 258.22,329.8 258.56,328.95 258.89,328.44 259.23,329.21 259.56,328.72 259.9,326.98 260.23,326.38 260.57,325.57 260.91,326.66 261.24,326.17 261.58,326.49 261.91,326.06 262.25,325.41 262.58,325.42 262.92,324.46 263.25,326.25 263.59,324.87 263.92,325.53 264.26,324.5 264.59,324.88 264.93,325.14 265.26,324.39 265.6,323.89 265.94,325.97 266.27,324.1 266.61,324.53 266.94,323.97 267.28,323.39 267.61,324.76 267.95,324.03 268.28,323.91 268.62,322 268.95,323.72 269.29,324.03 269.62,323.57 269.96,323.2 270.29,324.08 270.63,323.35 270.97,323.53 271.3,323.79 271.64,323.71 271.97,322.03 272.31,323.13 272.64,322.31 272.98,321.39 273.31,322.94 273.65,321.48 273.98,322.32 274.32,320.85 274.65,321.84 274.99,322.19 275.33,322.47 275.66,322.05 276,321.75 276.33,321.72 276.67,323.39 277,321.95 277.34,322.18 277.67,323.53 278.01,320.96 278.34,320.7 278.68,321.4 279.01,321.81 279.35,321.25 279.68,322 280.02,321.94 280.36,320.89 280.69,322.06 281.03,320.91 281.36,322.38 281.7,322.02 282.03,323.37 282.37,322.39 282.7,321.64 283.04,322 283.37,321.83 283.71,321.19 284.04,320.66 284.38,322.43 284.71,322.7 285.05,321.29 285.39,321.41 285.72,321.23 286.06,322.25 286.39,322.37 286.73,320.89 287.06,321.25 287.4,321.09 287.73,321.6 288.07,321.97 288.4,322.16 288.74,321.21 289.07,320.7 289.41,321.75 289.74,321.77 290.08,321.1 290.42,321.45 290.75,321.58 291.09,321.93 291.42,321.36 291.76,321.64 292.09,321.42 292.43,320.62 292.76,321.78 293.1,321.35 293.43,322.01 293.77,320.44 294.1,320.77 294.44,321.49 294.77,320.06 295.11,321.16 295.45,320.93 295.78,320.95 296.12,321.06 296.45,319.67 296.79,321.26 297.12,321.28 297.46,321.96 297.79,322.23 298.13,321.47 298.46,321.86 298.8,319.54 299.13,321.59 299.47,321.98 299.8,321.82 300.14,321.37 300.48,320.95 300.81,320.95 301.15,321.22 301.48,321.5 301.82,321.6 302.15,321.13 302.49,320.33 302.82,322.51 303.16,320.66 303.49,319.43 303.83,322.35 304.16,322.11 304.5,321.6 304.83,322.22 305.17,321.92 305.51,321.11 305.84,321.85 306.18,321 306.51,321.5 306.85,321.44 307.18,322.25 307.52,322.99 307.85,321.89 308.19,322.76 308.52,321.05 308.86,321.89 309.19,323.11 309.53,323.5 309.86,323.58 310.2,323.76" fill="none" stroke="#ab263b" stroke-width="2.3" stroke-linejoin="round" stroke-linecap="round" />
<polyline points="75.8,387.45 76.59,388.27 77.37,393.48 78.16,385.99 78.94,388.77 79.73,386.29 80.51,386.31 81.3,387.86 82.08,385.99 82.87,385.74 83.66,382.77 84.44,389.39 85.23,385.44 86.01,385.54 86.8,388.27 87.58,390.83 88.37,388.64 89.16,391.31 89.94,389.47 90.73,384.66 91.51,387.05 92.3,390 93.08,384.35 93.87,389.43 94.65,391.12 95.44,389.86 96.23,390.04 97.01,387.64 97.8,387.13 98.58,386.68 99.37,385.72 100.15,386.05 100.94,386.17 101.73,383.82 102.51,388.21 103.3,388.7 104.08,391.25 104.87,386.65 105.65,390.81 106.44,388.58 107.22,389.35 108.01,387.83 108.8,390.13 109.58,388.13 110.37,390.17 111.15,386.88 111.94,388.25 112.72,389.68 113.51,389.46 114.3,389.89 115.08,390.28 115.87,386.31 116.65,388.3 117.44,391.75 118.22,388.51 119.01,391.26 119.79,386.61 120.58,388.48 121.37,389.89 122.15,386.68 122.94,389.43 123.72,387.43 124.51,387.77 125.29,384.34 126.08,389.43 126.87,387.11 127.65,390.18 128.44,388.48 129.22,390.14 130.01,388.86 130.79,387.39 131.58,387.74 132.36,392.56 133.15,389.83 133.94,389.95 134.72,387.88 135.51,390.68 136.29,392.11 137.08,392.66 137.86,385.88 138.65,390.17 139.44,384.27 140.22,384.82 141.01,387.45 141.79,388.92 142.58,390.9 143.36,389.64 144.15,390.8 144.93,393.49 145.72,386.96 146.51,386.26 147.29,389.25 148.08,386.45 148.86,389.62 149.65,392.72 150.43,387.12 151.22,390.07 152.01,386.98 152.79,388.24 153.58,390.82 154.36,392.99 155.15,393.6 155.93,387.5 156.72,389.41 157.5,391.68 158.29,392.16 159.08,388.68 159.86,389.32 160.65,386.57 161.43,387.98 162.22,391.87 163,390.46 163.79,390.63 164.57,391.74 165.36,394.93 166.15,390.8 166.93,387.37 167.72,390.94 168.5,387.41 169.29,387 170.07,385.02 170.86,384.93 171.65,384.85 172.43,391.3 173.22,389.31 174,383.78 174.79,388.89 175.57,388.97 176.36,387.56 177.14,386.79 177.93,385.53 178.72,385.66 179.5,389.76 180.29,389.8 181.07,385.19 181.86,381.26 182.64,382.03 183.43,384.96 184.22,382.03 185,384.5 185.79,381.66 186.57,383.62 187.36,385.18 188.14,387.14 188.93,390.92 189.71,389.5 190.5,390.95 191.29,387.29 192.07,385.97 192.86,384.42 193.64,385.61 194.43,385.87 195.21,385.86 196,393.08 196.79,393.52 197.57,391.35 198.36,393.63 199.14,389.97 199.93,389.56 200.71,388.87 201.5,391.19 202.28,387.35 203.07,385.05 203.86,390.41 204.64,388.95 205.43,390.63 206.21,393.14 207,390.4 207.78,393 208.57,388.62 209.36,395.54 210.14,392.73 210.93,385.27 211.71,380.92 212.5,389.01 213.28,390.15 214.07,401.59 214.85,406.98 215.64,399.32 216.43,395.84 217.21,392.71 218,392.61 218.78,389.08 219.57,394.85 220.35,390.36 221.14,396.04 221.93,388.06 222.71,390.63 223.5,392.73 224.28,386.91 225.07,392.29 225.85,390.48 226.64,390.55 227.42,390.31 228.21,389.12 229,391.94 229.78,392.57 230.57,391.82 231.35,391.56 232.14,394 232.92,390.94 233.71,391.43 234.49,390.7 235.28,387.97 236.07,392.41 236.85,386.64 237.64,386.99 238.42,383.25 239.21,388.49 239.99,387.28 240.78,390.01 241.57,386.39 242.35,385.14 243.14,386.44 243.92,391.46 244.71,390.54 245.49,392.44 246.28,391.7 247.06,389.36 247.85,390.75 248.64,389.57 249.42,386.92 250.21,389.28 250.99,387.16 251.78,386.32 252.56,390.02 253.35,390.82 254.14,386.38 254.92,387.44 255.71,388.87 256.49,392.27 257.28,391.52 258.06,391.9 258.85,389.08 259.63,390.03 260.42,390.38 261.21,388.93 261.99,383.79 262.78,387.88 263.56,388.09 264.35,392.91 265.13,390.03 265.92,388.77 266.71,386.93 267.49,385.82 268.28,389.73 269.06,389.22 269.85,390.49 270.63,391.47 271.42,387.84 272.2,392.51 272.99,386.49 273.78,392.06 274.56,388.77 275.35,390.3 276.13,390.9 276.92,390.93 277.7,392.38 278.49,392.87 279.28,387.89 280.06,391.79 280.85,391.04 281.63,389.53 282.42,384.37 283.2,389.68 283.99,389.8 284.77,387.82 285.56,388.76 286.35,388.99 287.13,388.82 287.92,386.96 288.7,390.95 289.49,388.84 290.27,388.16 291.06,385.51 291.85,387.01 292.63,390.4 293.42,389.85 294.2,387.78 294.99,390.54 295.77,392.15 296.56,390.05 297.34,388.47 298.13,390.32 298.92,389.33 299.7,387.87 300.49,389.84 301.27,385.87 302.06,385.5 302.84,387.67 303.63,389.81 304.42,388.71 305.2,389.95 305.99,385.25 306.77,385.78 307.56,390.19 308.34,389.82 309.13,388.87 309.91,393.35 310.7,388.51" fill="none" stroke="#2c7ab9" stroke-width="2.0" stroke-linejoin="round" stroke-linecap="round" />
</g>
<rect x="75" y="240.6" width="236" height="169.7" fill="none" stroke="#222" stroke-width="1.3"/>
<line x1="75" y1="410.3" x2="75" y2="414.5" stroke="#222" stroke-width="1.25" />
<text x="75" y="426" text-anchor="middle" font-size="10.6" fill="#1a1a1a" >3460</text>
<line x1="122.2" y1="410.3" x2="122.2" y2="414.5" stroke="#222" stroke-width="1.25" />
<text x="122.2" y="426" text-anchor="middle" font-size="10.6" fill="#1a1a1a" >3480</text>
<line x1="169.4" y1="410.3" x2="169.4" y2="414.5" stroke="#222" stroke-width="1.25" />
<text x="169.4" y="426" text-anchor="middle" font-size="10.6" fill="#1a1a1a" >3500</text>
<line x1="216.6" y1="410.3" x2="216.6" y2="414.5" stroke="#222" stroke-width="1.25" />
<text x="216.6" y="426" text-anchor="middle" font-size="10.6" fill="#1a1a1a" >3520</text>
<line x1="263.8" y1="410.3" x2="263.8" y2="414.5" stroke="#222" stroke-width="1.25" />
<text x="263.8" y="426" text-anchor="middle" font-size="10.6" fill="#1a1a1a" >3540</text>
<line x1="311" y1="410.3" x2="311" y2="414.5" stroke="#222" stroke-width="1.25" />
<text x="311" y="426" text-anchor="middle" font-size="10.6" fill="#1a1a1a" >3560</text>
<line x1="98.6" y1="410.3" x2="98.6" y2="412.9" stroke="#222" stroke-width="1.25" />
<line x1="145.8" y1="410.3" x2="145.8" y2="412.9" stroke="#222" stroke-width="1.25" />
<line x1="193" y1="410.3" x2="193" y2="412.9" stroke="#222" stroke-width="1.25" />
<line x1="240.2" y1="410.3" x2="240.2" y2="412.9" stroke="#222" stroke-width="1.25" />
<line x1="287.4" y1="410.3" x2="287.4" y2="412.9" stroke="#222" stroke-width="1.25" />
<text x="194.6" y="442" text-anchor="middle" font-size="10.6" fill="#1a1a1a" >Magnetic field (G)</text>
<text x="81.3" y="252.8" text-anchor="start" font-size="10.6" fill="#1a1a1a" >DMPO−•O<tspan font-size="6.15" dy="2.9">2</tspan><tspan dy="-2.9" font-size="6.15">&#8203;</tspan><tspan font-size="7" dy="-3.5">−</tspan><tspan dy="3.5" font-size="7">&#8203;</tspan></text>
<text x="251.7" y="277.6" text-anchor="start" font-size="11.0" fill="#1a1a1a" >Irradiated</text>
<text x="263.9" y="368.8" text-anchor="start" font-size="11.0" fill="#1a1a1a" >In dark</text>
<rect x="425.7" y="240.6" width="241.1" height="169.4" fill="none" stroke="#222" stroke-width="1.3"/>
<line x1="425.7" y1="325.3" x2="666.8" y2="325.3" stroke="#222" stroke-width="1.25" />
<line x1="421.5" y1="319.6" x2="425.7" y2="319.6" stroke="#222" stroke-width="1.25" />
<text x="420.5" y="323.3" text-anchor="end" font-size="10.6" fill="#1a1a1a" >0.0</text>
<line x1="421.5" y1="295.43" x2="425.7" y2="295.43" stroke="#222" stroke-width="1.25" />
<text x="420.5" y="299.13" text-anchor="end" font-size="10.6" fill="#1a1a1a" >0.4</text>
<line x1="421.5" y1="271.26" x2="425.7" y2="271.26" stroke="#222" stroke-width="1.25" />
<text x="420.5" y="274.96" text-anchor="end" font-size="10.6" fill="#1a1a1a" >0.8</text>
<line x1="421.5" y1="247.09" x2="425.7" y2="247.09" stroke="#222" stroke-width="1.25" />
<text x="420.5" y="250.79" text-anchor="end" font-size="10.6" fill="#1a1a1a" >1.2</text>
<line x1="423.1" y1="307.52" x2="425.7" y2="307.52" stroke="#222" stroke-width="1.25" />
<line x1="423.1" y1="283.35" x2="425.7" y2="283.35" stroke="#222" stroke-width="1.25" />
<line x1="423.1" y1="259.18" x2="425.7" y2="259.18" stroke="#222" stroke-width="1.25" />
<line x1="421.5" y1="404.8" x2="425.7" y2="404.8" stroke="#222" stroke-width="1.25" />
<text x="420.5" y="408.5" text-anchor="end" font-size="10.6" fill="#1a1a1a" >0</text>
<line x1="421.5" y1="382.06" x2="425.7" y2="382.06" stroke="#222" stroke-width="1.25" />
<text x="420.5" y="385.76" text-anchor="end" font-size="10.6" fill="#1a1a1a" >2</text>
<line x1="421.5" y1="359.32" x2="425.7" y2="359.32" stroke="#222" stroke-width="1.25" />
<text x="420.5" y="363.02" text-anchor="end" font-size="10.6" fill="#1a1a1a" >4</text>
<line x1="421.5" y1="336.58" x2="425.7" y2="336.58" stroke="#222" stroke-width="1.25" />
<text x="420.5" y="340.28" text-anchor="end" font-size="10.6" fill="#1a1a1a" >6</text>
<line x1="423.1" y1="393.43" x2="425.7" y2="393.43" stroke="#222" stroke-width="1.25" />
<line x1="423.1" y1="370.69" x2="425.7" y2="370.69" stroke="#222" stroke-width="1.25" />
<line x1="423.1" y1="347.95" x2="425.7" y2="347.95" stroke="#222" stroke-width="1.25" />
<line x1="434.8" y1="325.3" x2="434.8" y2="329.5" stroke="#222" stroke-width="1.25" />
<line x1="434.8" y1="410" x2="434.8" y2="414.2" stroke="#222" stroke-width="1.25" />
<text x="434.8" y="425.7" text-anchor="middle" font-size="10.6" fill="#1a1a1a" >0</text>
<line x1="490.5" y1="325.3" x2="490.5" y2="329.5" stroke="#222" stroke-width="1.25" />
<line x1="490.5" y1="410" x2="490.5" y2="414.2" stroke="#222" stroke-width="1.25" />
<text x="490.5" y="425.7" text-anchor="middle" font-size="10.6" fill="#1a1a1a" >30</text>
<line x1="546.2" y1="325.3" x2="546.2" y2="329.5" stroke="#222" stroke-width="1.25" />
<line x1="546.2" y1="410" x2="546.2" y2="414.2" stroke="#222" stroke-width="1.25" />
<text x="546.2" y="425.7" text-anchor="middle" font-size="10.6" fill="#1a1a1a" >60</text>
<line x1="601.9" y1="325.3" x2="601.9" y2="329.5" stroke="#222" stroke-width="1.25" />
<line x1="601.9" y1="410" x2="601.9" y2="414.2" stroke="#222" stroke-width="1.25" />
<text x="601.9" y="425.7" text-anchor="middle" font-size="10.6" fill="#1a1a1a" >90</text>
<line x1="657.6" y1="325.3" x2="657.6" y2="329.5" stroke="#222" stroke-width="1.25" />
<line x1="657.6" y1="410" x2="657.6" y2="414.2" stroke="#222" stroke-width="1.25" />
<text x="657.6" y="425.7" text-anchor="middle" font-size="10.6" fill="#1a1a1a" >120</text>
<line x1="462.65" y1="325.3" x2="462.65" y2="327.9" stroke="#222" stroke-width="1.25" />
<line x1="462.65" y1="410" x2="462.65" y2="412.6" stroke="#222" stroke-width="1.25" />
<line x1="518.35" y1="325.3" x2="518.35" y2="327.9" stroke="#222" stroke-width="1.25" />
<line x1="518.35" y1="410" x2="518.35" y2="412.6" stroke="#222" stroke-width="1.25" />
<line x1="574.05" y1="325.3" x2="574.05" y2="327.9" stroke="#222" stroke-width="1.25" />
<line x1="574.05" y1="410" x2="574.05" y2="412.6" stroke="#222" stroke-width="1.25" />
<line x1="629.75" y1="325.3" x2="629.75" y2="327.9" stroke="#222" stroke-width="1.25" />
<line x1="629.75" y1="410" x2="629.75" y2="412.6" stroke="#222" stroke-width="1.25" />
<text x="546.25" y="441.8" text-anchor="middle" font-size="11.0" fill="#1a1a1a" >Time (min)</text>
<polyline points="434.8,319.6 490.5,314.46 546.2,298.75 601.9,264.61 657.6,249.2" fill="none" stroke="#2a6ca8" stroke-width="2.4" stroke-linejoin="round" stroke-linecap="round" />
<circle cx="434.8" cy="319.6" r="2.9" fill="#fff" stroke="#2a6ca8" stroke-width="1.5"/>
<circle cx="490.5" cy="314.46" r="2.9" fill="#fff" stroke="#2a6ca8" stroke-width="1.5"/>
<circle cx="546.2" cy="298.75" r="2.9" fill="#fff" stroke="#2a6ca8" stroke-width="1.5"/>
<circle cx="601.9" cy="264.61" r="2.9" fill="#fff" stroke="#2a6ca8" stroke-width="1.5"/>
<circle cx="657.6" cy="249.2" r="2.9" fill="#fff" stroke="#2a6ca8" stroke-width="1.5"/>
<polyline points="434.8,404.8 490.5,379.79 546.2,363.87 601.9,351.36 657.6,334.31" fill="none" stroke="#a82a3c" stroke-width="2.4" stroke-linejoin="round" stroke-linecap="round" />
<rect x="432.4" y="402.4" width="4.8" height="4.8" fill="#fff" stroke="#a82a3c" stroke-width="1.3"/>
<rect x="488.1" y="377.39" width="4.8" height="4.8" fill="#fff" stroke="#a82a3c" stroke-width="1.3"/>
<rect x="543.8" y="361.47" width="4.8" height="4.8" fill="#fff" stroke="#a82a3c" stroke-width="1.3"/>
<rect x="599.5" y="348.96" width="4.8" height="4.8" fill="#fff" stroke="#a82a3c" stroke-width="1.3"/>
<rect x="655.2" y="331.91" width="4.8" height="4.8" fill="#fff" stroke="#a82a3c" stroke-width="1.3"/>
<text x="432.4" y="252.6" text-anchor="start" font-size="10.6" fill="#1a1a1a" >[•O<tspan font-size="6.15" dy="2.9">2</tspan><tspan dy="-2.9" font-size="6.15">&#8203;</tspan><tspan font-size="7" dy="-3.5">−</tspan><tspan dy="3.5" font-size="7">&#8203;</tspan>]<tspan font-size="6.4" dy="3.2">ss</tspan><tspan dy="-3.2" font-size="6.4">&#8203;</tspan> = 0.15 µM</text>
<text x="432.4" y="341.8" text-anchor="start" font-size="10.6" fill="#1a1a1a" >[H<tspan font-size="6.15" dy="2.9">2</tspan><tspan dy="-2.9" font-size="6.15">&#8203;</tspan>O<tspan font-size="6.15" dy="2.9">2</tspan><tspan dy="-2.9" font-size="6.15">&#8203;</tspan>] <tspan font-size="6.2" dy="3.4">120 min</tspan><tspan dy="-3.4" font-size="6.2">&#8203;</tspan> = 6.2 µM</text>
<text transform="translate(392.6 279) rotate(-90)" text-anchor="middle" font-size="10.6" fill="#1a1a1a" >ln(<tspan font-style="italic">C</tspan><tspan font-size="6" dy="2.9">0,NBT</tspan><tspan dy="-2.9" font-size="6">&#8203;</tspan>/<tspan font-style="italic">C</tspan><tspan font-size="6" dy="2.9">NBT</tspan><tspan dy="-2.9" font-size="6">&#8203;</tspan>)</text>
<text transform="translate(392.6 366.2) rotate(-90)" text-anchor="middle" font-size="10.6" fill="#1a1a1a" >H<tspan font-size="6.15" dy="2.9">2</tspan><tspan dy="-2.9" font-size="6.15">&#8203;</tspan>O<tspan font-size="6.15" dy="2.9">2</tspan><tspan dy="-2.9" font-size="6.15">&#8203;</tspan> (µM)</text>
<rect x="87.9" y="479.81" width="22.9" height="138.29" fill="url(#p_blue)" stroke="#4f7a9c" stroke-width="1.4"/>
<rect x="119.2" y="479.04" width="23" height="139.06" fill="url(#p_red)" stroke="#a3414f" stroke-width="1.4"/>
<rect x="151.2" y="504.75" width="22.6" height="113.35" fill="url(#p_teal)" stroke="#2f6f80" stroke-width="1.4"/>
<rect x="182.8" y="549.54" width="22.7" height="68.56" fill="url(#p_maroon)" stroke="#5e2a40" stroke-width="1.4"/>
<rect x="214.4" y="557.94" width="22.2" height="60.16" fill="url(#p_orange)" stroke="#d9734a" stroke-width="1.4"/>
<rect x="245.9" y="556.92" width="22.6" height="61.18" fill="url(#p_green)" stroke="#4f9f80" stroke-width="1.4"/>
<rect x="277.5" y="573.97" width="22.7" height="44.13" fill="url(#p_pink)" stroke="#f0b2c8" stroke-width="1.4"/>
<rect x="77.4" y="452" width="233.8" height="166.1" fill="none" stroke="#222" stroke-width="1.3"/>
<line x1="73.2" y1="618" x2="77.4" y2="618" stroke="#222" stroke-width="1.25" />
<text x="71.1" y="621.7" text-anchor="end" font-size="10.6" fill="#1a1a1a" >0.00</text>
<line x1="73.2" y1="567.1" x2="77.4" y2="567.1" stroke="#222" stroke-width="1.25" />
<text x="71.1" y="570.8" text-anchor="end" font-size="10.6" fill="#1a1a1a" >0.02</text>
<line x1="73.2" y1="516.2" x2="77.4" y2="516.2" stroke="#222" stroke-width="1.25" />
<text x="71.1" y="519.9" text-anchor="end" font-size="10.6" fill="#1a1a1a" >0.04</text>
<line x1="73.2" y1="465.3" x2="77.4" y2="465.3" stroke="#222" stroke-width="1.25" />
<text x="71.1" y="469" text-anchor="end" font-size="10.6" fill="#1a1a1a" >0.06</text>
<line x1="74.8" y1="592.55" x2="77.4" y2="592.55" stroke="#222" stroke-width="1.25" />
<line x1="74.8" y1="541.65" x2="77.4" y2="541.65" stroke="#222" stroke-width="1.25" />
<line x1="74.8" y1="490.75" x2="77.4" y2="490.75" stroke="#222" stroke-width="1.25" />
<text transform="translate(36.2 534.8) rotate(-90)" text-anchor="middle" font-size="10.6" fill="#1a1a1a" ><tspan font-style="italic">k</tspan> (min<tspan font-size="6.5" dy="-3.5">-1</tspan><tspan dy="3.5" font-size="6.5">&#8203;</tspan>)</text>
<text x="193.2" y="648" text-anchor="middle" font-size="10.8" fill="#1a1a1a" >Quenching condition</text>
<rect x="185.2" y="457.2" width="10.8" height="7.8" fill="url(#p_blue)" stroke="#4f7a9c" stroke-width="0.9"/>
<text x="203.3" y="464.9" text-anchor="start" font-size="10.6" fill="#1a1a1a" >No scavenger</text>
<rect x="185.2" y="475.7" width="10.8" height="7.8" fill="url(#p_red)" stroke="#a3414f" stroke-width="0.9"/>
<text x="203.3" y="483.4" text-anchor="start" font-size="10.6" fill="#1a1a1a" >IPA</text>
<rect x="185.2" y="494.9" width="10.8" height="7.8" fill="url(#p_maroon)" stroke="#5e2a40" stroke-width="0.9"/>
<text x="203.3" y="502.6" text-anchor="start" font-size="10.6" fill="#1a1a1a" >Cr(VI)</text>
<rect x="185.2" y="514.7" width="10.8" height="7.8" fill="url(#p_green)" stroke="#4f9f80" stroke-width="0.9"/>
<text x="203.3" y="522.4" text-anchor="start" font-size="10.6" fill="#1a1a1a" >SOD</text>
<rect x="246.2" y="475.7" width="10.8" height="7.8" fill="url(#p_teal)" stroke="#2f6f80" stroke-width="0.9"/>
<text x="264.3" y="483.4" text-anchor="start" font-size="10.6" fill="#1a1a1a" >L−His</text>
<rect x="246.2" y="494.9" width="10.8" height="7.8" fill="url(#p_orange)" stroke="#d9734a" stroke-width="0.9"/>
<text x="264.3" y="502.6" text-anchor="start" font-size="10.6" fill="#1a1a1a" >Oxalate</text>
<rect x="246.2" y="514.7" width="10.8" height="7.8" fill="url(#p_pink)" stroke="#f0b2c8" stroke-width="0.9"/>
<text x="264.3" y="522.4" text-anchor="start" font-size="10.6" fill="#1a1a1a" >CAT</text>
<rect x="438.5" y="494.02" width="23.7" height="122.98" fill="url(#p_fblue)"/>
<rect x="475.4" y="496.08" width="23.7" height="120.92" fill="url(#p_fblue)"/>
<rect x="503.3" y="498.96" width="24" height="118.04" fill="url(#p_fblue)"/>
<rect x="552.9" y="505.76" width="23.7" height="111.24" fill="url(#p_fblue)"/>
<rect x="599.5" y="531.3" width="23.2" height="85.7" fill="url(#p_fblue)"/>
<rect x="630.3" y="558.7" width="23.5" height="58.3" fill="url(#p_fblue)"/>
<line x1="450.35" y1="491.34" x2="450.35" y2="496.7" stroke="#111" stroke-width="1.0" />
<line x1="447.95" y1="491.34" x2="452.75" y2="491.34" stroke="#111" stroke-width="1.0" />
<line x1="447.95" y1="496.7" x2="452.75" y2="496.7" stroke="#111" stroke-width="1.0" />
<line x1="487.25" y1="494.22" x2="487.25" y2="497.93" stroke="#111" stroke-width="1.0" />
<line x1="484.85" y1="494.22" x2="489.65" y2="494.22" stroke="#111" stroke-width="1.0" />
<line x1="484.85" y1="497.93" x2="489.65" y2="497.93" stroke="#111" stroke-width="1.0" />
<line x1="515.3" y1="494.64" x2="515.3" y2="503.29" stroke="#111" stroke-width="1.0" />
<line x1="512.9" y1="494.64" x2="517.7" y2="494.64" stroke="#111" stroke-width="1.0" />
<line x1="512.9" y1="503.29" x2="517.7" y2="503.29" stroke="#111" stroke-width="1.0" />
<line x1="564.75" y1="500.82" x2="564.75" y2="510.7" stroke="#111" stroke-width="1.0" />
<line x1="562.35" y1="500.82" x2="567.15" y2="500.82" stroke="#111" stroke-width="1.0" />
<line x1="562.35" y1="510.7" x2="567.15" y2="510.7" stroke="#111" stroke-width="1.0" />
<line x1="611.1" y1="526.15" x2="611.1" y2="536.45" stroke="#111" stroke-width="1.0" />
<line x1="608.7" y1="526.15" x2="613.5" y2="526.15" stroke="#111" stroke-width="1.0" />
<line x1="608.7" y1="536.45" x2="613.5" y2="536.45" stroke="#111" stroke-width="1.0" />
<line x1="642.05" y1="553.76" x2="642.05" y2="563.65" stroke="#111" stroke-width="1.0" />
<line x1="639.65" y1="553.76" x2="644.45" y2="553.76" stroke="#111" stroke-width="1.0" />
<line x1="639.65" y1="563.65" x2="644.45" y2="563.65" stroke="#111" stroke-width="1.0" />
<polyline points="450.4,455.3 452.01,455.93 453.62,456.57 455.22,457.21 456.83,457.84 458.44,458.48 460.05,459.12 461.65,459.75 463.26,460.38 464.87,461 466.48,461.61 468.08,462.22 469.69,462.83 471.3,463.44 472.91,464.06 474.51,464.67 476.12,465.27 477.73,465.87 479.34,466.45 480.94,467 482.55,467.54 484.16,468.05 485.77,468.53 487.37,468.98 488.98,469.43 490.59,469.86 492.2,470.27 493.8,470.68 495.41,471.07 497.02,471.46 498.63,471.84 500.23,472.21 501.84,472.58 503.45,472.95 505.06,473.31 506.66,473.67 508.27,474.01 509.88,474.34 511.49,474.66 513.09,474.98 514.7,475.29 516.31,475.61 517.92,475.93 519.53,476.26 521.13,476.6 522.74,476.96 524.35,477.34 525.96,477.74 527.56,478.16 529.17,478.59 530.78,479.04 532.39,479.51 533.99,479.99 535.6,480.5 537.21,481.03 538.82,481.58 540.42,482.15 542.03,482.76 543.64,483.4 545.25,484.07 546.85,484.77 548.46,485.5 550.07,486.26 551.68,487.06 553.28,487.88 554.89,488.74 556.5,489.63 558.11,490.57 559.71,491.54 561.32,492.57 562.93,493.64 564.54,494.77 566.14,495.94 567.75,497.18 569.36,498.47 570.97,499.83 572.57,501.32 574.18,502.92 575.79,504.62 577.4,506.42 579.01,508.3 580.61,510.26 582.22,512.36 583.83,514.59 585.44,516.94 587.04,519.37 588.65,521.87 590.26,524.41 591.87,527.04 593.47,529.76 595.08,532.57 596.69,535.44 598.3,538.37 599.9,541.32 601.51,544.34 603.12,547.44 604.73,550.61 606.33,553.8 607.94,556.98 609.55,560.13 611.16,563.24 612.76,566.38 614.37,569.52 615.98,572.62 617.59,575.65 619.19,578.58 620.8,581.39 622.41,584.15 624.02,586.86 625.62,589.49 627.23,592.01 628.84,594.38 630.45,596.6 632.05,598.65 633.66,600.58 635.27,602.43 636.88,604.22 638.48,605.98 640.09,607.77 641.7,609.6" fill="none" stroke="#962a40" stroke-width="2.3" stroke-linejoin="round" stroke-linecap="round" />
<rect x="425.7" y="452.2" width="240.9" height="164.8" fill="none" stroke="#222" stroke-width="1.3"/>
<line x1="421.5" y1="617" x2="425.7" y2="617" stroke="#222" stroke-width="1.25" />
<text x="419.9" y="621.6" text-anchor="end" font-size="10.6" fill="#1a1a1a" >1.0</text>
<line x1="421.5" y1="575.8" x2="425.7" y2="575.8" stroke="#222" stroke-width="1.25" />
<text x="419.9" y="580.4" text-anchor="end" font-size="10.6" fill="#1a1a1a" >1.2</text>
<line x1="421.5" y1="534.6" x2="425.7" y2="534.6" stroke="#222" stroke-width="1.25" />
<text x="419.9" y="539.2" text-anchor="end" font-size="10.6" fill="#1a1a1a" >1.4</text>
<line x1="421.5" y1="493.4" x2="425.7" y2="493.4" stroke="#222" stroke-width="1.25" />
<text x="419.9" y="498" text-anchor="end" font-size="10.6" fill="#1a1a1a" >1.6</text>
<line x1="421.5" y1="452.2" x2="425.7" y2="452.2" stroke="#222" stroke-width="1.25" />
<text x="419.9" y="456.8" text-anchor="end" font-size="10.6" fill="#1a1a1a" >1.8</text>
<line x1="423.1" y1="596.4" x2="425.7" y2="596.4" stroke="#222" stroke-width="1.25" />
<line x1="423.1" y1="555.2" x2="425.7" y2="555.2" stroke="#222" stroke-width="1.25" />
<line x1="423.1" y1="514" x2="425.7" y2="514" stroke="#222" stroke-width="1.25" />
<line x1="423.1" y1="472.8" x2="425.7" y2="472.8" stroke="#222" stroke-width="1.25" />
<line x1="457.1" y1="617" x2="457.1" y2="621.2" stroke="#222" stroke-width="1.25" />
<text x="457.1" y="634.3" text-anchor="middle" font-size="10.6" fill="#1a1a1a" >315</text>
<line x1="503.25" y1="617" x2="503.25" y2="621.2" stroke="#222" stroke-width="1.25" />
<text x="503.25" y="634.3" text-anchor="middle" font-size="10.6" fill="#1a1a1a" >330</text>
<line x1="549.4" y1="617" x2="549.4" y2="621.2" stroke="#222" stroke-width="1.25" />
<text x="549.4" y="634.3" text-anchor="middle" font-size="10.6" fill="#1a1a1a" >345</text>
<line x1="595.55" y1="617" x2="595.55" y2="621.2" stroke="#222" stroke-width="1.25" />
<text x="595.55" y="634.3" text-anchor="middle" font-size="10.6" fill="#1a1a1a" >360</text>
<line x1="641.7" y1="617" x2="641.7" y2="621.2" stroke="#222" stroke-width="1.25" />
<text x="641.7" y="634.3" text-anchor="middle" font-size="10.6" fill="#1a1a1a" >375</text>
<line x1="434.03" y1="617" x2="434.03" y2="619.6" stroke="#222" stroke-width="1.25" />
<line x1="480.18" y1="617" x2="480.18" y2="619.6" stroke="#222" stroke-width="1.25" />
<line x1="526.33" y1="617" x2="526.33" y2="619.6" stroke="#222" stroke-width="1.25" />
<line x1="572.48" y1="617" x2="572.48" y2="619.6" stroke="#222" stroke-width="1.25" />
<line x1="618.62" y1="617" x2="618.62" y2="619.6" stroke="#222" stroke-width="1.25" />
<line x1="664.77" y1="617" x2="664.77" y2="619.6" stroke="#222" stroke-width="1.25" />
<text x="546" y="649.2" text-anchor="middle" font-size="11.0" fill="#1a1a1a" >Wavelength (nm)</text>
<text transform="translate(393.8 534.6) rotate(-90)" text-anchor="middle" font-size="10.6" fill="#1a1a1a" >H<tspan font-size="6.15" dy="2.9">2</tspan><tspan dy="-2.9" font-size="6.15">&#8203;</tspan>O<tspan font-size="6.15" dy="2.9">2</tspan><tspan dy="-2.9" font-size="6.15">&#8203;</tspan> (µM)</text>
<text transform="translate(682.9 537.6) rotate(-90)" text-anchor="middle" font-size="10.5" fill="#1a1a1a" >Normalized absorbance</text>
</svg>
</body></html>
